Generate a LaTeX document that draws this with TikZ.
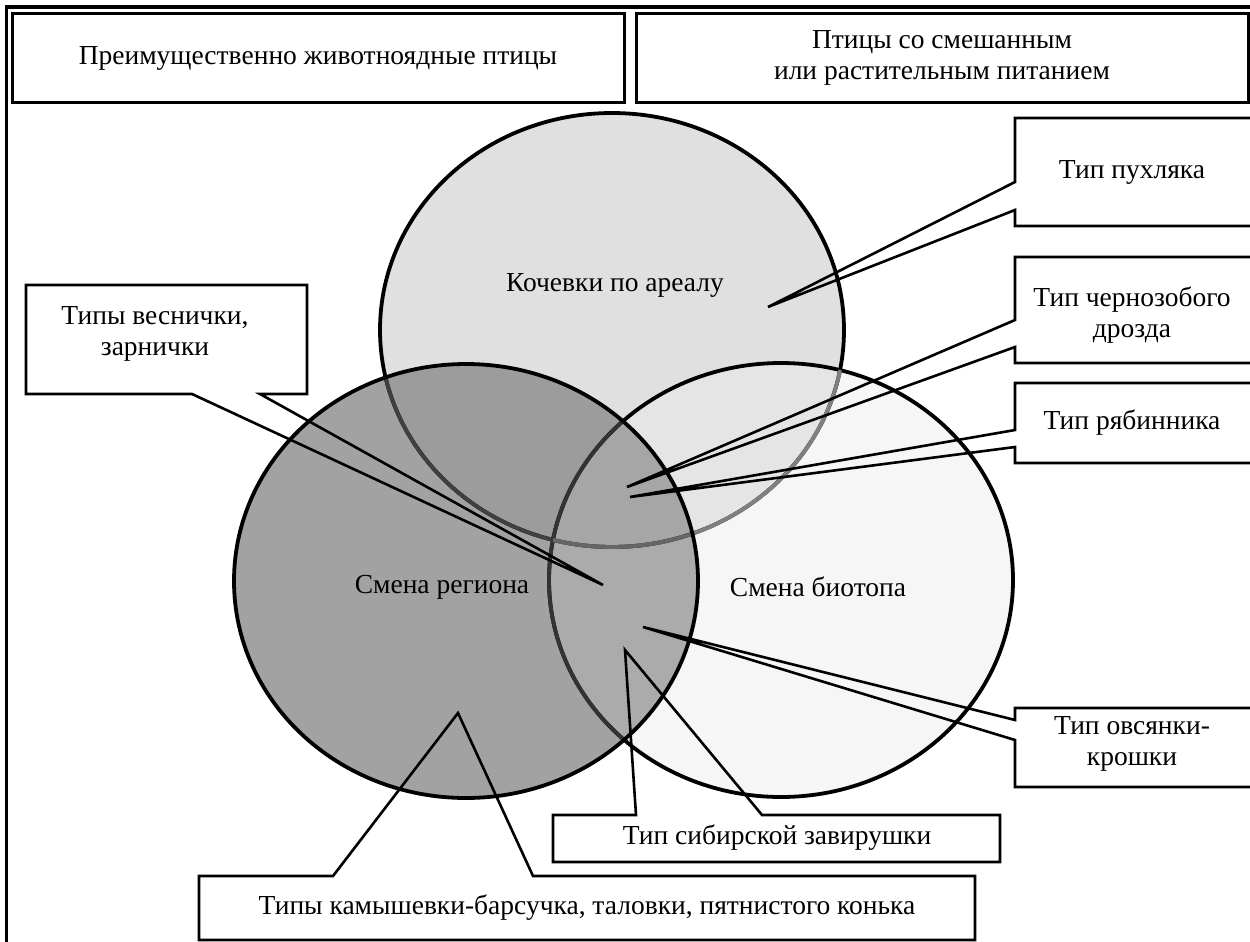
\documentclass[tikz,border=0pt]{standalone}
\usepackage{fontspec}
\setmainfont{Liberation Serif}
\usetikzlibrary{calc}
\definecolor{cTop}{gray}{0.878}
\definecolor{cRight}{gray}{0.965}
\definecolor{cLeft}{gray}{0.635}
\definecolor{cTR}{gray}{0.90}
\definecolor{cLT}{gray}{0.61}
\definecolor{cLR}{gray}{0.67}
\definecolor{cLTR}{gray}{0.65}
\begin{document}
\begin{tikzpicture}[x=1pt,y=-1pt,
  E/.style={x radius=232pt,y radius=217pt},
  bx/.style={rectangle,fill=white,inner sep=0pt,outer sep=0pt},
  hbox/.style={bx,draw=black,line width=3pt,align=center,font=\fontsize{27.5}{31}\selectfont},
  lbl/.style={inner sep=0pt,align=center,font=\fontsize{27.5}{31}\selectfont},
  cl/.style={draw=black,line width=2.6pt,line join=miter},
  ring/.style={line width=3.8pt}]
\useasboundingbox (0,0) rectangle (1250,942);
\fill[white] (0,0) rectangle (1250,942);
% frame
\draw[line width=3.5pt] (6.5,7) rectangle (1265,948);
% headers
\node[hbox,minimum width=612pt,minimum height=88pt] (H1) at (318,58) {Преимущественно животноядные птицы};
\node[hbox,minimum width=612pt,minimum height=88pt] (H2) at (942,58) {Птицы со смешанным\\или растительным питанием};
% circles
\coordinate (cT) at (612,330);
\coordinate (cL) at (466,581);
\coordinate (cR) at (781,580);
\fill[cTop] (cT) ellipse [E];
\fill[cRight] (cR) ellipse [E];
\fill[cLeft] (cL) ellipse [E];
\begin{scope}\clip (cT) ellipse [E]; \fill[cTR] (cR) ellipse [E]; \fill[cLT] (cL) ellipse [E];\end{scope}
\begin{scope}\clip (cL) ellipse [E]; \fill[cLR] (cR) ellipse [E];\end{scope}
\begin{scope}\clip (cL) ellipse [E]; \clip (cR) ellipse [E]; \fill[cLTR] (cT) ellipse [E];\end{scope}
\draw[ring] (cT) ellipse [E];
\draw[ring] (cR) ellipse [E];
\begin{scope}\clip (cR) ellipse [E]; \draw[ring,draw=black!50] (cT) ellipse [E];\end{scope}
\begin{scope}\clip (cL) ellipse [E]; \draw[ring,draw=black!75] (cT) ellipse [E]; \draw[ring,draw=black!80] (cR) ellipse [E];\end{scope}
\begin{scope}\clip (cL) ellipse [E]; \clip (cR) ellipse [E]; \draw[ring,draw=black!60] (cT) ellipse [E];\end{scope}
\draw[ring] (cL) ellipse [E];
\node[lbl] (kT) at (615,285) {Кочевки по ареалу};
\node[lbl] (kL) at (442,587) {Смена региона};
\node[lbl] (kR) at (818,587) {Смена биотопа};
% tips
\coordinate (tP) at (768,307);
\coordinate (tD) at (627,487);
\coordinate (tR) at (630,497);
\coordinate (tO) at (643,627);
\coordinate (tS) at (625,650);
\coordinate (tB) at (458,713);
\coordinate (tV) at (603,585);
% callout boxes
\node[bx,minimum width=237pt,minimum height=108pt] (P) at (1133.5,172) {};
\node[bx,minimum width=237pt,minimum height=106pt] (D) at (1133.5,310) {};
\node[bx,minimum width=237pt,minimum height=80pt] (R) at (1133.5,423) {};
\node[bx,minimum width=237pt,minimum height=79pt] (O) at (1133.5,747.5) {};
\node[bx,minimum width=447pt,minimum height=47pt] (S) at (776.5,838.5) {};
\node[bx,minimum width=776pt,minimum height=64pt] (B) at (587,908) {};
\node[bx,minimum width=281pt,minimum height=109pt] (V) at (166.5,339.5) {};
% callout outlines
\draw[cl] (P.north east) -- (P.north west) -- ([yshift=-10pt]P.west) -- (tP) -- ([yshift=-38pt]P.west) -- (P.south west) -- (P.south east);
\draw[cl] (D.north east) -- (D.north west) -- ([yshift=-10pt]D.west) -- (tD) -- ([yshift=-37pt]D.west) -- (D.south west) -- (D.south east);
\draw[cl] (R.north east) -- (R.north west) -- ([yshift=-7pt]R.west) -- (tR) -- ([yshift=-24pt]R.west) -- (R.south west) -- (R.south east);
\draw[cl] (O.north east) -- (O.north west) -- ([yshift=27.5pt]O.west) -- (tO) -- ([yshift=7.5pt]O.west) -- (O.south west) -- (O.south east);
\draw[cl] (S.north west) -- ([xshift=-140.5pt]S.north) -- (tS) -- ([xshift=-14.5pt]S.north) -- (S.north east) -- (S.south east) -- (S.south west) -- cycle;
\draw[cl] (B.north west) -- ([xshift=-254pt]B.north) -- (tB) -- ([xshift=-54pt]B.north) -- (B.north east) -- (B.south east) -- (B.south west) -- cycle;
\draw[cl] (V.south west) -- ([xshift=25.5pt]V.south) -- (tV) -- ([xshift=93.5pt]V.south) -- (V.south east) -- (V.north east) -- (V.north west) -- cycle;
% labels
\node[lbl] (Pt) at (1132,172) {Тип пухляка};
\node[lbl] (Dt) at (1132,315) {Тип чернозобого\\дрозда};
\node[lbl] (Rt) at (1132,423) {Тип рябинника};
\node[lbl] (Ot) at (1132,744) {Тип овсянки-\\крошки};
\node[lbl] (St) at (777,838) {Тип сибирской завирушки};
\node[lbl] (Bt) at (587,908) {Типы камышевки-барсучка, таловки, пятнистого конька};
\node[lbl] (Vt) at (155,334) {Типы веснички,\\зарнички};
\end{tikzpicture}
\end{document}
